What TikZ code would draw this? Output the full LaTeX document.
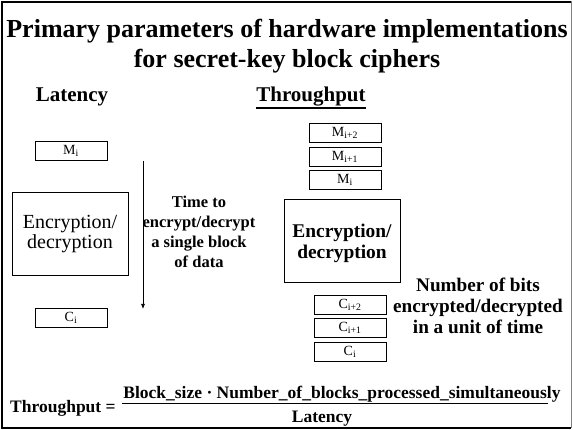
\documentclass[tikz,border=0pt]{standalone}
\usepackage{fontspec}
\usetikzlibrary{arrows.meta}
\setmainfont{Liberation Serif}
\begin{document}
\begin{tikzpicture}[x=1pt,y=-1pt,
  blk/.style={draw,line width=0.7pt,minimum width=72pt,minimum height=19pt,inner sep=0pt,font=\fontsize{14}{15}\selectfont},
  bigbox/.style={draw,line width=0.7pt,minimum width=116pt,minimum height=83pt,inner sep=0pt},
  boxtext/.style={align=center,inner sep=0pt},
  lbl/.style={font=\bfseries\fontsize{16.5}{20}\selectfont,align=center},
  head/.style={font=\bfseries\fontsize{21}{24}\selectfont,inner sep=0pt},
  frm/.style={font=\bfseries\fontsize{17.5}{20}\selectfont,inner sep=0pt,anchor=base}]
\useasboundingbox (0,0) rectangle (573,430);
\fill[white] (0,0) rectangle (573,430);
% frame
\draw[gray,line width=0.8pt] (571.5,1) -- (571.5,428);
\draw[line width=2pt] (571,2) -- (2,2) -- (2,428) -- (571,428);
% title
\node[font=\bfseries\fontsize{26}{30}\selectfont,align=center] (title) at (287,46) {Primary parameters of hardware implementations\\for secret-key block ciphers};
\node[head] (lat) at (72,97) {Latency};
\node[head] (thr) at (311,97) {Throughput};
\draw[line width=1.6pt] ([yshift=-6pt]thr.base west) -- ([yshift=-6pt]thr.base east);
% latency side
\node[blk] (mi) at (71,151) {M\textsubscript{i}};
\node[bigbox] (enc) at (70,234) {};
\node[boxtext,font=\fontsize{20}{20}\selectfont] (enct) at (enc.center) {Encryption/\\decryption};
\node[blk] (ci) at (71,318) {C\textsubscript{i}};
\coordinate (ta) at (143,161);
\coordinate (tb) at (143,309);
\draw[line width=0.7pt,-{Latex[length=5pt,width=4pt]}] (ta) -- (tb);
\node[lbl] (time) at (199,232) {Time to\\encrypt/decrypt\\a single block\\of data};
% throughput side
\node[blk] (m2) at (345,132.5) {M\textsubscript{i+2}};
\node[blk] (m1) at (345,156.5) {M\textsubscript{i+1}};
\node[blk] (m0) at (345,180) {M\textsubscript{i}};
\node[bigbox] (enc2) at (342,241) {};
\node[boxtext,font=\bfseries\fontsize{19.4}{21}\selectfont] (enc2t) at ([yshift=-2pt]enc2.center) {Encryption/\\decryption};
\node[blk] (c2) at (350,304.5) {C\textsubscript{i+2}};
\node[blk] (c1) at (350,327.5) {C\textsubscript{i+1}};
\node[blk] (c0) at (350,351.5) {C\textsubscript{i}};
\node[font=\bfseries\fontsize{19.2}{21}\selectfont,align=center,inner sep=0pt] (nb) at (478,306) {Number of bits\\encrypted/decrypted\\in a unit of time};
% formula
\node[frm,anchor=base west] (tp) at (10,412) {Throughput =};
\node[frm] (num) at (342,398) {Block\_size · Number\_of\_blocks\_processed\_simultaneously};
\node[frm] (den) at (322,422) {Latency};
\coordinate (fa) at (122,403);
\coordinate (fb) at (548,403);
\draw[line width=0.8pt] (fa) -- (fb);
\end{tikzpicture}
\end{document}
